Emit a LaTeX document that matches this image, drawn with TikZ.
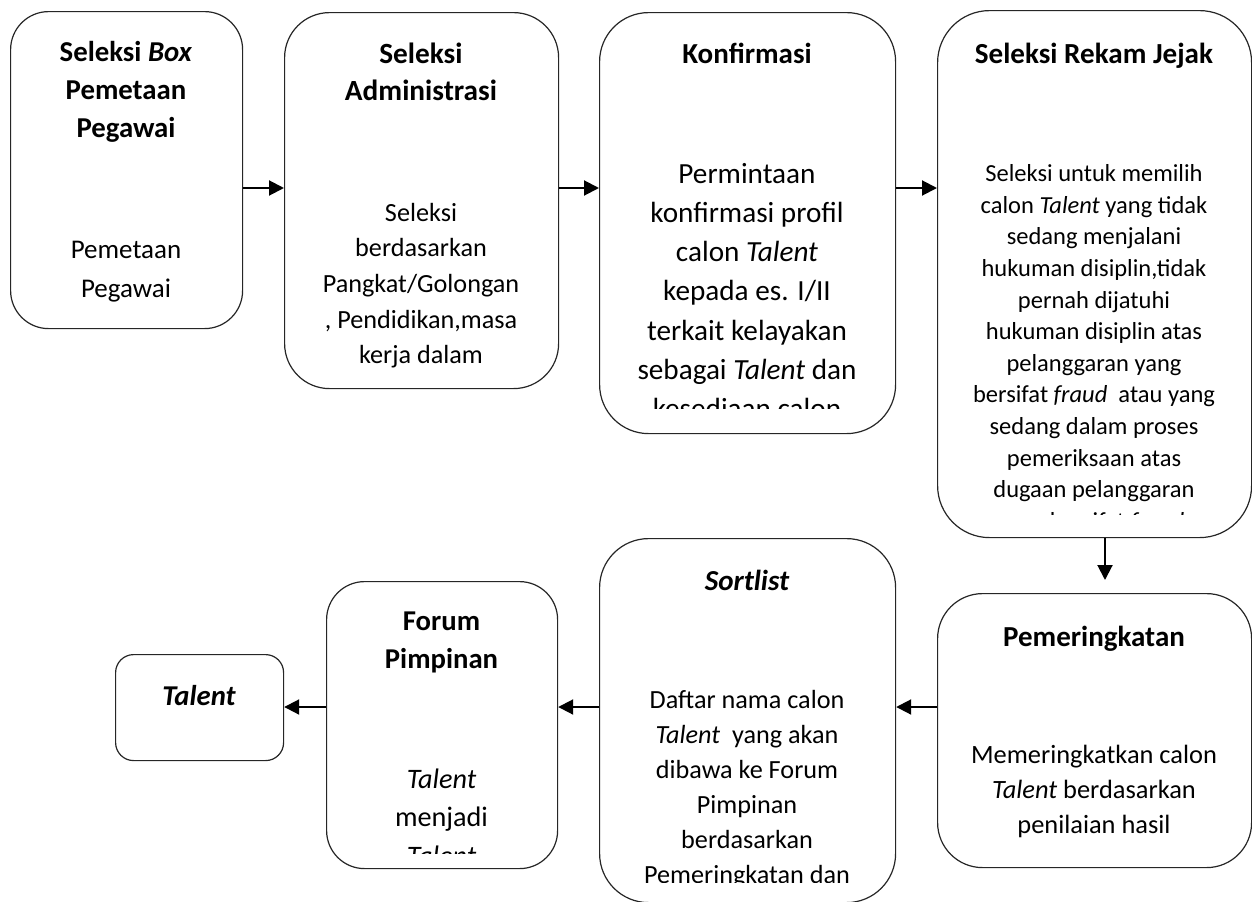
\documentclass[tikz,border=0pt]{standalone}
\usepackage{fontspec}
\setmainfont{Carlito}
\usetikzlibrary{arrows.meta}
\begin{document}
\begin{tikzpicture}[x=1bp,y=-1bp,
  box/.style={draw=black!85, line width=1.2bp, fill=white, inner sep=0pt, anchor=north west},
  arr/.style={line width=2bp, -{Triangle[length=15bp,width=15bp]}},
  txt/.style={anchor=north, inner sep=0pt, align=center},
]
\useasboundingbox (0,0) rectangle (1252,902);
% boxes
\node[box, rounded corners=38bp, minimum width=232bp, minimum height=317bp] (b1) at (10,11) {};
\node[box, rounded corners=45bp, minimum width=274bp, minimum height=376bp] (b2) at (284,12) {};
\node[box, rounded corners=49bp, minimum width=296bp, minimum height=421bp] (b3) at (599,12) {};
\node[box, rounded corners=52bp, minimum width=314bp, minimum height=527bp] (b4) at (937,10) {};
\node[box, rounded corners=45bp, minimum width=314bp, minimum height=274bp] (b5) at (937,593) {};
\node[box, rounded corners=49bp, minimum width=296bp, minimum height=364bp] (b6) at (599,538) {};
\node[box, rounded corners=38bp, minimum width=231bp, minimum height=287bp] (b7) at (326,581) {};
\node[box, rounded corners=18bp, minimum width=168bp, minimum height=106bp] (b8) at (115,654) {};
% connectors
\coordinate (row1) at (0,188);
\coordinate (row2) at (0,707);
\coordinate (col1) at (1105,0);
\draw[arr] (b1.east |- row1) -- (b2.west |- row1);
\draw[arr] (b2.east |- row1) -- (b3.west |- row1);
\draw[arr] (b3.east |- row1) -- (b4.west |- row1);
\draw[arr, shorten >=13bp] (b4.south -| col1) -- (b5.north -| col1);
\draw[arr] (b5.west |- row2) -- (b6.east |- row2);
\draw[arr] (b6.west |- row2) -- (b7.east |- row2);
\draw[arr] (b7.west |- row2) -- (b8.east |- row2);
% texts
\node[txt, font=\fontsize{28.8bp}{38bp}\selectfont\bfseries] (t1) at (126,32.2) {\rule{0pt}{28.8bp}Seleksi \textit{Box}\\Pemetaan\\Pegawai};
\node[txt, font=\fontsize{27bp}{39bp}\selectfont] (d1) at (126,231) {\rule{0pt}{27bp}Pemetaan\\Pegawai};

\node[txt, font=\fontsize{29.3bp}{37bp}\selectfont\bfseries] (t2) at (421,33.7) {\rule{0pt}{29.3bp}Seleksi\\Administrasi};
\node[txt, font=\fontsize{26.2bp}{35.6bp}\selectfont] (d2) at (421,194.8) {\rule{0pt}{26.2bp}Seleksi\\berdasarkan\\Pangkat/Golongan\\, Pendidikan,masa\\kerja dalam};

\node[txt, font=\fontsize{29bp}{38bp}\selectfont\bfseries] (t3) at (747,34) {\rule{0pt}{29bp}Konfirmasi};
\begin{scope}
\clip (599,12) rectangle (895,408);
\node[txt, font=\fontsize{29.2bp}{39.2bp}\selectfont] (d3) at (747,153.8) {\rule{0pt}{29.2bp}Permintaan\\konfirmasi profil\\calon \textit{Talent}\\kepada es. I/II\\terkait kelayakan\\sebagai \textit{Talent} dan\\kesediaan calon};
\end{scope}

\node[txt, font=\fontsize{29.1bp}{38bp}\selectfont\bfseries] (t4) at (1094,33.9) {\rule{0pt}{29.1bp}Seleksi Rekam Jejak};
\begin{scope}
\clip (937,10) rectangle (1251,514);
\node[txt, font=\fontsize{24.5bp}{31.6bp}\selectfont] (d4) at (1094,157) {\rule{0pt}{24.5bp}Seleksi untuk memilih\\calon \textit{Talent} yang tidak\\sedang menjalani\\hukuman disiplin,tidak\\pernah dijatuhi\\hukuman disiplin atas\\pelanggaran yang\\bersifat \textit{fraud}\ \ atau yang\\sedang dalam proses\\pemeriksaan atas\\dugaan pelanggaran\\yang bersifat \textit{fraud}.};
\end{scope}

\node[txt, font=\fontsize{29bp}{38bp}\selectfont\bfseries] (t5) at (1094,617) {\rule{0pt}{29bp}Pemeringkatan};
\node[txt, font=\fontsize{26.4bp}{35bp}\selectfont] (d5) at (1094,736.6) {\rule{0pt}{26.4bp}Memeringkatkan calon\\\textit{Talent} berdasarkan\\penilaian hasil};

\node[txt, font=\fontsize{29bp}{38bp}\selectfont\bfseries\itshape] (t6) at (747,561) {\rule{0pt}{29bp}Sortlist};
\begin{scope}
\clip (599,538) rectangle (895,882);
\node[txt, font=\fontsize{26.2bp}{35bp}\selectfont] (d6) at (747,681.8) {\rule{0pt}{26.2bp}Daftar nama calon\\\textit{Talent}\ \ yang akan\\dibawa ke Forum\\Pimpinan\\berdasarkan\\Pemeringkatan dan};
\end{scope}

\node[txt, font=\fontsize{28.7bp}{38bp}\selectfont\bfseries] (t7) at (441.5,601.3) {\rule{0pt}{28.7bp}Forum\\Pimpinan};
\begin{scope}
\clip (326,581) rectangle (557,853);
\node[txt, font=\fontsize{28.2bp}{38.7bp}\selectfont] (d7) at (441.5,759.8) {\rule{0pt}{28.2bp}\textit{Talent}\\menjadi\\\textit{Talent}};
\end{scope}

\node[txt, font=\fontsize{28.7bp}{38bp}\selectfont\bfseries\itshape] (t8) at (199,676.3) {\rule{0pt}{28.7bp}Talent};
\end{tikzpicture}
\end{document}
